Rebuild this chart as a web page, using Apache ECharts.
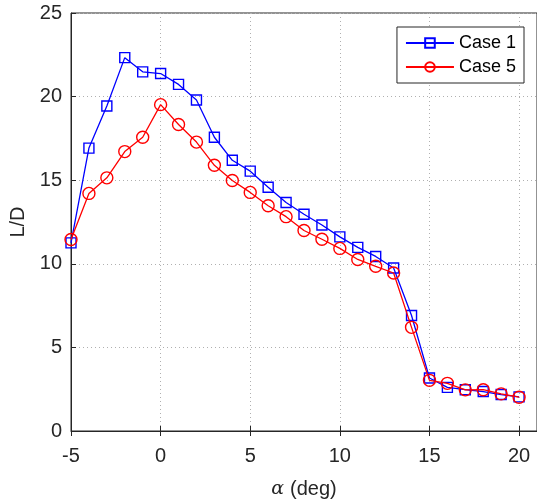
<!DOCTYPE html>
<html>
<head>
<meta charset="utf-8">
<script src="https://cdn.jsdelivr.net/npm/echarts@6/dist/echarts.min.js"></script>
<style>
  html, body { margin: 0; padding: 0; background: #fff; }
  #chart { width: 537px; height: 504px; }
</style>
</head>
<body>
<div id="chart"></div>
<script>
// Angle of attack (deg)
const alpha = [-5, -4, -3, -2, -1, 0, 1, 2, 3, 4, 5, 6, 7, 8, 9, 10, 11, 12, 13, 14, 15, 16, 17, 18, 19, 20];

// Lift-to-drag ratio for each case
const case1 = [11.25, 16.92, 19.44, 22.33, 21.48, 21.38, 20.73, 19.80, 17.57, 16.19, 15.54, 14.58, 13.67, 12.96, 12.32, 11.61, 10.98, 10.44, 9.75, 6.91, 3.17, 2.61, 2.47, 2.36, 2.18, 2.04];
const case5 = [11.45, 14.21, 15.14, 16.71, 17.57, 19.52, 18.33, 17.28, 15.89, 14.98, 14.27, 13.47, 12.82, 11.99, 11.47, 10.92, 10.26, 9.85, 9.45, 6.20, 3.03, 2.85, 2.46, 2.47, 2.22, 2.02];

const seriesNames = ['Case 1', 'Case 5'];
const xTicks = [-5, 0, 5, 10, 15, 20];
const yTicks = [0, 5, 10, 15, 20, 25];

const axisColor = '#262626';
const font = 'Liberation Sans, Arial, Helvetica, sans-serif';

const pairs = (ys) => alpha.map((a, i) => [a, ys[i]]);

const chart = echarts.init(document.getElementById('chart'), null, { renderer: 'canvas' });

const gridLine = { show: true, lineStyle: { color: '#b0b0b0', type: [1, 3], width: 1 } };

chart.setOption({
  animation: false,
  backgroundColor: '#fff',
  grid: {
    left: 70, top: 13, right: -3, bottom: 71,
    show: true, borderColor: axisColor, borderWidth: 1, backgroundColor: 'transparent'
  },
  legend: {
    right: 13, top: 27,
    orient: 'vertical',
    data: seriesNames,
    itemWidth: 48, itemHeight: 12, itemGap: 6,
    padding: [7, 8, 7, 8],
    borderColor: axisColor, borderWidth: 1,
    backgroundColor: '#fff',
    textStyle: { fontFamily: font, fontSize: 18, color: '#000' }
  },
  xAxis: [{
    type: 'value', min: -5, max: 21, interval: 5,
    axisLine: { show: true, onZero: false, lineStyle: { color: axisColor, width: 1 } },
    axisTick: { show: true, inside: true, length: 5, lineStyle: { color: axisColor } },
    axisLabel: {
      show: true, margin: 15, showMaxLabel: false, color: axisColor,
      fontFamily: font, fontSize: 20,
      formatter: (v) => (xTicks.includes(v) ? String(v) : '')
    },
    splitLine: gridLine,
    name: '{a|α}{b|(deg)}',
    nameLocation: 'middle',
    nameGap: 48,
    nameTextStyle: {
      rich: {
        a: { fontFamily: 'DejaVu Serif, Liberation Serif, serif', fontStyle: 'italic', fontSize: 19, color: axisColor, padding: [0, 6, 0, 0] },
        b: { fontFamily: font, fontSize: 20, color: axisColor }
      }
    }
  }, {
    type: 'value', min: -5, max: 21, interval: 5, position: 'top',
    axisLine: { show: false },
    axisTick: { show: true, inside: true, length: 5, lineStyle: { color: axisColor } },
    axisLabel: { show: false },
    splitLine: { show: false }
  }],
  yAxis: {
    type: 'value', min: 0, max: 25, interval: 5,
    axisLine: { show: true, onZero: false, lineStyle: { color: axisColor, width: 1 } },
    axisTick: { show: true, inside: true, length: 5, lineStyle: { color: axisColor } },
    axisLabel: {
      show: true, margin: 9, color: axisColor, fontFamily: font, fontSize: 20,
      formatter: (v) => (yTicks.includes(v) ? String(v) : '')
    },
    splitLine: gridLine,
    name: 'L/D',
    nameLocation: 'middle',
    nameGap: 43,
    nameTextStyle: { fontFamily: font, fontSize: 20, color: axisColor }
  },
  series: [{
    name: seriesNames[0],
    type: 'line',
    data: pairs(case1),
    symbol: 'rect', symbolSize: 10,
    showAllSymbol: true,
    lineStyle: { color: '#0000ff', width: 1.3 },
    itemStyle: { color: 'rgba(0,0,0,0)', borderColor: '#0000ff', borderWidth: 1.4 },
    z: 2
  }, {
    name: seriesNames[1],
    type: 'line',
    data: pairs(case5),
    symbol: 'circle', symbolSize: 12,
    showAllSymbol: true,
    lineStyle: { color: '#ff0000', width: 1.3 },
    itemStyle: { color: 'rgba(0,0,0,0)', borderColor: '#ff0000', borderWidth: 1.4 },
    z: 3
  }]
});
</script>
</body>
</html>
